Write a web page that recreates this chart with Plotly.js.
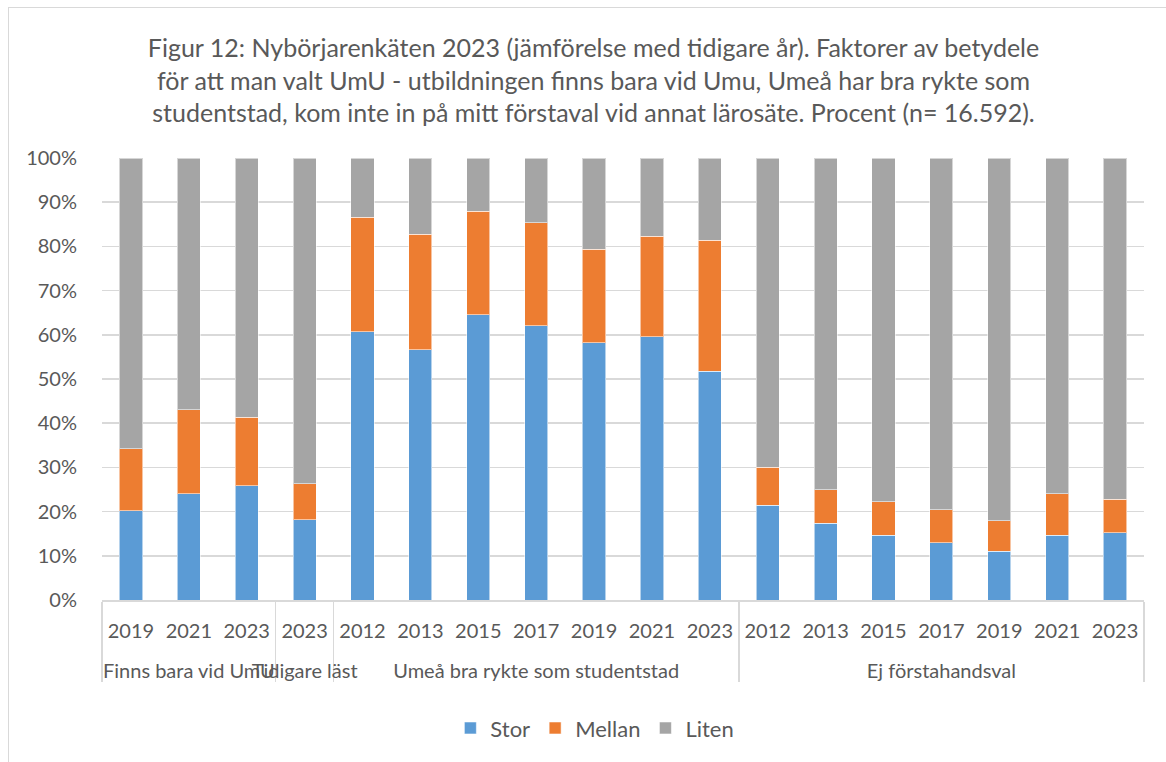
<!DOCTYPE html>
<html>
<head>
<meta charset="utf-8">
<script src="https://cdn.plot.ly/plotly-3.0.1.min.js"></script>
<style>
  html, body { margin: 0; padding: 0; background: #ffffff; overflow: hidden; }
  #frame { position: absolute; left: 8px; top: 7px; width: 1200px; height: 800px; border: 1px solid #d9d9d9; box-sizing: border-box; }
  #plot { position: absolute; left: 0; top: 0; width: 1166px; height: 762px; }
</style>
</head>
<body>
<div id="frame"></div>
<div id="plot"></div>
<script>
// Group labels (second level) and year labels (first level)
const groups = [
  "Finns bara vid UmU", "Finns bara vid UmU", "Finns bara vid UmU",
  "Tidigare läst",
  "Umeå bra rykte som studentstad", "Umeå bra rykte som studentstad", "Umeå bra rykte som studentstad",
  "Umeå bra rykte som studentstad", "Umeå bra rykte som studentstad", "Umeå bra rykte som studentstad",
  "Umeå bra rykte som studentstad",
  "Ej förstahandsval", "Ej förstahandsval", "Ej förstahandsval", "Ej förstahandsval",
  "Ej förstahandsval", "Ej förstahandsval", "Ej förstahandsval"
];
const yearLabels = [
  "2019", "2021", "2023",
  "2023",
  "2012", "2013", "2015", "2017", "2019", "2021", "2023",
  "2012", "2013", "2015", "2017", "2019", "2021", "2023"
];
// Zero-width spaces keep the first two groups' year labels distinct so Plotly keeps the original
// year order; the trailing blank line gives the group-label row the same spacing as the original.
const ZW = "\u200B";
const years = yearLabels.map((y, i) => y + (i < 3 ? ZW : (i === 3 ? ZW + ZW : "")) + "<br>\u00A0");

// Percentages per series
const stor   = [20.2, 24.0, 25.8, 18.2, 60.7, 56.6, 64.5, 62.0, 58.2, 59.6, 51.7, 21.4, 17.4, 14.7, 12.9, 11.0, 14.6, 15.2];
const mellan = [14.0, 19.1, 15.6,  8.1, 25.9, 26.2, 23.5, 23.3, 21.1, 22.7, 29.7,  8.6,  7.6,  7.5,  7.5,  6.9,  9.4,  7.6];
const liten  = [65.8, 56.9, 58.6, 73.7, 13.4, 17.2, 12.0, 14.7, 20.7, 17.7, 18.6, 70.0, 75.0, 77.8, 79.6, 82.1, 76.0, 77.2];

const seriesNames = ["Stor", "Mellan", "Liten"];
const seriesColors = ["#5B9BD5", "#ED7D31", "#A5A5A5"];
const seriesValues = [stor, mellan, liten];

const FONT = "Lato, 'Open Sans', sans-serif";
const TXT = "#595959";

const traces = seriesValues.map((vals, i) => ({
  type: "bar",
  name: seriesNames[i],
  x: [groups, years],
  y: vals,
  marker: { color: seriesColors[i], line: { color: "rgba(255,255,255,0.55)", width: 1 } },
  hoverinfo: "name+y"
}));

const layout = {
  width: 1166,
  height: 762,
  barmode: "stack",
  bargap: 0.6,
  paper_bgcolor: "rgba(0,0,0,0)",
  plot_bgcolor: "rgba(0,0,0,0)",
  margin: { l: 102, r: 22, t: 158, b: 162 },
  font: { family: FONT, color: TXT, size: 20 },
  title: {
    text: "Figur 12: Nybörjarenkäten 2023 (jämförelse med tidigare år). Faktorer av betydele<br>för att man valt UmU - utbildningen finns bara vid Umu, Umeå har bra rykte som<br>studentstad, kom inte in på mitt förstaval vid annat lärosäte. Procent (n= 16.592).",
    font: { family: FONT, size: 25, color: TXT },
    x: 0.509, xanchor: "center", xref: "container",
    y: 1 - 57 / 762, yanchor: "top", yref: "container"
  },
  xaxis: {
    type: "multicategory",
    tickangle: 0,
    showline: true,
    linecolor: "#d9d9d9",
    linewidth: 1.5,
    showgrid: false,
    ticks: "",
    ticklabelstandoff: 12,
    showdividers: true,
    dividercolor: "#d9d9d9",
    dividerwidth: 1.5,
    tickfont: { family: FONT, size: 20, color: TXT }
  },
  yaxis: {
    range: [0, 100],
    dtick: 10,
    tick0: 0,
    ticksuffix: "%",
    showgrid: true,
    gridcolor: "#d9d9d9",
    gridwidth: 1.5,
    zeroline: false,
    showline: false,
    ticks: "outside",
    ticklen: 20,
    tickcolor: "rgba(0,0,0,0)",
    tickfont: { family: FONT, size: 20, color: TXT },
    fixedrange: true
  },
  legend: {
    orientation: "h",
    x: 0.473, xanchor: "center",
    y: -0.29, yanchor: "middle",
    font: { family: FONT, size: 22, color: TXT },
    traceorder: "normal",
    itemwidth: 30
  },
  showlegend: true
};

Plotly.newPlot("plot", traces, layout, { displayModeBar: false, staticPlot: true });
</script>
</body>
</html>
